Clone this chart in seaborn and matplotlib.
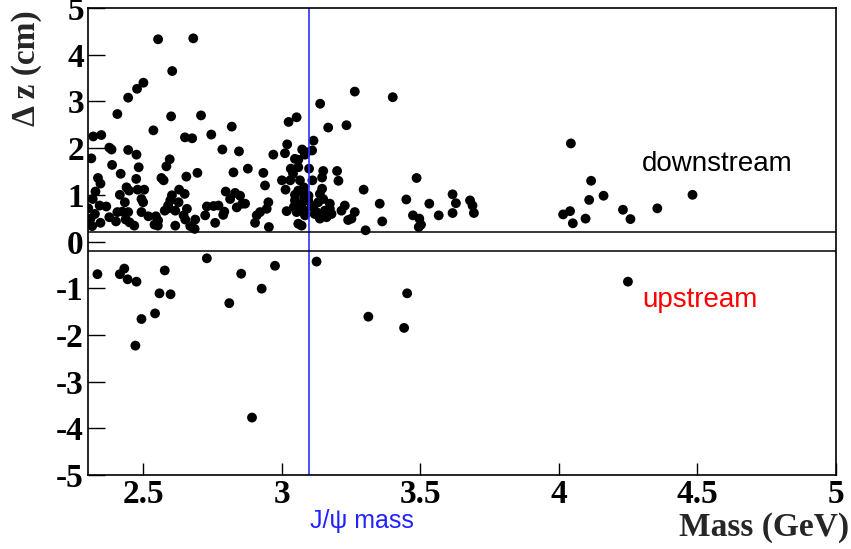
import matplotlib
matplotlib.use("Agg")
import matplotlib.pyplot as plt
import matplotlib.transforms as mtransforms
import pandas as pd
import seaborn as sns

# Dimuon candidates: invariant mass (GeV) and vertex separation along z (cm)
mass = [
    # upper region
    2.553, 2.680, 2.604, 2.500, 2.477, 2.445, 2.406, 2.600, 2.708, 2.536,
    2.819, 2.745, 2.650, 2.676, 2.319, 2.348, 3.024, 3.053, 3.138, 3.167,
    3.114, 3.263, 3.400, 3.233, 3.019, 3.011, 3.073, 3.109, 2.969, 3.059,
    3.083, 2.377, 2.385, 2.445, 2.475, 2.785, 2.845, 4.043, 2.312, 3.047,
    3.089,
    # middle region
    2.387, 2.483, 2.418, 2.583, 2.595, 2.336, 2.345, 2.474, 2.479, 2.503,
    2.439, 2.448, 2.415, 2.565, 2.573, 2.327, 2.877, 2.825, 2.695, 2.655,
    2.629, 2.649, 2.603, 2.797, 2.831, 2.849, 2.933, 2.939, 3.032, 3.098,
    3.149, 3.199, 3.000, 3.030, 3.065, 3.110, 3.145, 3.204, 3.013, 3.047,
    3.079, 3.145, 3.295, 3.486, 3.137, 3.096, 3.616, 4.116, 4.482, 3.059,
    3.040, 3.059, 3.083,
    # lower region, near the J/psi
    3.149, 3.173, 3.080, 3.047, 3.071, 3.095, 3.131, 3.017, 3.043, 3.053,
    3.071, 3.083, 3.112, 3.118, 3.137, 3.161, 3.179, 3.215, 3.227, 3.239,
    3.251, 3.263, 3.353, 3.362, 3.449, 3.473, 3.496, 3.502, 3.494, 3.532,
    3.566, 3.616, 3.628, 3.679, 3.688, 3.693, 3.071, 3.302, 3.083, 3.059,
    3.155, 3.107, 3.125, 3.173,
    # lower region, high mass
    4.109, 4.161, 4.015, 4.040, 4.050, 4.096, 4.231, 4.258, 4.355,
    # lower region, low mass
    2.317, 2.493, 2.499, 2.433, 2.342, 2.366, 2.301, 2.325, 2.406, 2.424,
    2.445, 2.377, 2.309, 2.401, 2.436, 2.450, 2.493, 2.518, 2.545, 2.553,
    2.345, 2.315, 2.467, 2.540, 2.552, 2.577, 2.589, 2.597, 2.627, 2.813,
    2.857, 2.837, 2.591, 2.615, 2.657, 2.729, 2.753, 2.771, 2.792, 2.788,
    2.723, 2.759, 2.645, 2.651, 2.687, 2.615, 2.669, 2.685, 2.867, 2.951,
    2.945, 2.921, 2.909, 2.903, 2.953,
    # upstream candidates
    2.334, 2.415, 2.431, 2.443, 2.475, 2.577, 2.558, 2.598, 2.493, 2.542,
    2.471, 2.729, 2.853, 2.810, 2.927, 2.975, 3.125, 3.452, 3.312, 3.441,
    4.249, 2.892,
]

dz = [
    # upper region
    4.33, 4.35, 3.65, 3.40, 3.27, 3.08, 2.73, 2.68, 2.70, 2.38,
    2.46, 2.29, 2.23, 2.21, 2.25, 2.28, 2.56, 2.66, 2.95, 2.44,
    2.16, 3.21, 3.09, 2.49, 2.08, 1.89, 1.97, 1.95, 1.86, 1.75,
    1.86, 2.01, 1.97, 1.96, 1.86, 1.97, 1.93, 2.10, 1.78, 1.77,
    1.91,
    # middle region
    1.64, 1.59, 1.45, 1.61, 1.76, 1.36, 1.24, 1.34, 1.11, 1.11,
    1.16, 1.09, 1.00, 1.36, 1.31, 1.07, 1.56, 1.48, 1.47, 1.39,
    1.11, 1.02, 0.99, 1.07, 1.04, 0.98, 1.47, 1.20, 1.56, 1.56,
    1.51, 1.51, 1.31, 1.31, 1.31, 1.31, 1.37, 1.30, 1.11, 1.00,
    1.16, 1.13, 1.11, 1.36, 1.02, 0.98, 1.01, 1.30, 1.00, 1.59,
    1.45, 1.09, 1.02,
    # lower region, near the J/psi
    0.91, 0.81, 0.94, 0.88, 0.81, 0.88, 0.84, 0.65, 0.74, 0.63,
    0.70, 0.66, 0.74, 0.59, 0.49, 0.52, 0.59, 0.66, 0.77, 0.46,
    0.49, 0.63, 0.81, 0.43, 0.90, 0.56, 0.49, 0.36, 0.31, 0.81,
    0.56, 0.61, 0.82, 0.88, 0.77, 0.61, 0.34, 0.24, 0.56, 0.38,
    0.66, 0.77, 0.63, 0.70,
    # lower region, high mass
    0.89, 0.98, 0.58, 0.65, 0.39, 0.49, 0.68, 0.48, 0.71,
    # lower region, low mass
    0.91, 0.91, 0.84, 0.84, 0.77, 0.75, 0.71, 0.59, 0.63, 0.64,
    0.63, 0.52, 0.49, 0.43, 0.47, 0.41, 0.63, 0.54, 0.54, 0.45,
    0.40, 0.33, 0.34, 0.36, 0.34, 0.66, 0.77, 0.88, 0.84, 0.91,
    0.81, 0.73, 0.71, 0.66, 0.70, 0.75, 0.76, 0.77, 0.64, 0.57,
    0.56, 0.40, 0.56, 0.47, 0.47, 0.34, 0.33, 0.27, 0.81, 0.84,
    0.70, 0.63, 0.56, 0.40, 0.31,
    # upstream candidates
    -0.70, -0.70, -0.58, -0.81, -0.86, -0.62, -1.11, -1.13, -1.66, -1.54,
    -2.23, -0.36, -0.69, -1.32, -1.01, -0.52, -0.43, -1.11, -1.61, -1.85,
    -0.86, -3.77,
]

jpsi_mass = 3.097
band_edge = 0.2
x_ticks = [2.5, 3.0, 3.5, 4.0, 4.5, 5.0]
x_tick_labels = ["2.5", "3", "3.5", "4", "4.5", "5"]
y_ticks = [-5, -4, -3, -2, -1, 0, 1, 2, 3, 4, 5]
y_tick_labels = ["-5", "-4", "-3", "-2", "-1", "0", "1", "2", "3", "4", "5"]

sns.set_style("ticks")
plt.rcParams["font.family"] = ["Liberation Serif", "DejaVu Serif"]

fig = plt.figure(figsize=(8.51, 5.49), dpi=100)
ax = fig.add_axes([88 / 851, 1 - 475 / 549, 748 / 851, 467 / 549])

df = pd.DataFrame({"mass": mass, "dz": dz})
sns.scatterplot(data=df, x="mass", y="dz", ax=ax, color="black",
                s=50, edgecolor="none", linewidth=0, legend=False)

ax.axvline(jpsi_mass, color="#3030ff", lw=1.2, zorder=1)
ax.axhline(band_edge, color="black", lw=1.1, zorder=1)
ax.axhline(-band_edge, color="black", lw=1.1, zorder=1)

ax.set_xlim(2.3, 5.0)
ax.set_ylim(-5, 5)

ax.set_xticks(x_ticks, x_tick_labels, fontsize=24, fontweight="bold")
ax.set_yticks(y_ticks, y_tick_labels, fontsize=24, fontweight="bold")
ax.tick_params(axis="both", direction="in", top=False, right=False,
               width=1.0, color="black", labelcolor="black")
ax.tick_params(axis="y", length=12.5, pad=3)
ax.tick_params(axis="x", length=9, pad=3)

for side in ["left", "right", "top", "bottom"]:
    ax.spines[side].set_visible(True)
    ax.spines[side].set_color("black")
    ax.spines[side].set_linewidth(1.2)

ax.set_xlabel("Mass (GeV)", fontsize=24, fontweight="bold", loc="right")
ax.xaxis.set_label_coords(1.018, -0.08)
ax.set_ylabel("Δ z (cm)", fontsize=24, fontweight="bold", loc="top")
ax.yaxis.set_label_coords(-0.062, 0.996)

sans = ["Liberation Sans", "DejaVu Sans"]
ax.text(4.30, 1.67, "downstream", fontsize=20, family=sans,
        color="black", ha="left", va="center")
ax.text(4.30, -1.26, "upstream", fontsize=20, family=sans,
        color="red", ha="left", va="center")

blend = mtransforms.blended_transform_factory(ax.transData, ax.transAxes)
ax.text(jpsi_mass + 0.003, -0.099, "J/ψ mass", fontsize=18, family=sans,
        color="#2222ff", ha="left", va="center", transform=blend)

fig.savefig("out.png", dpi=100, facecolor="white")
